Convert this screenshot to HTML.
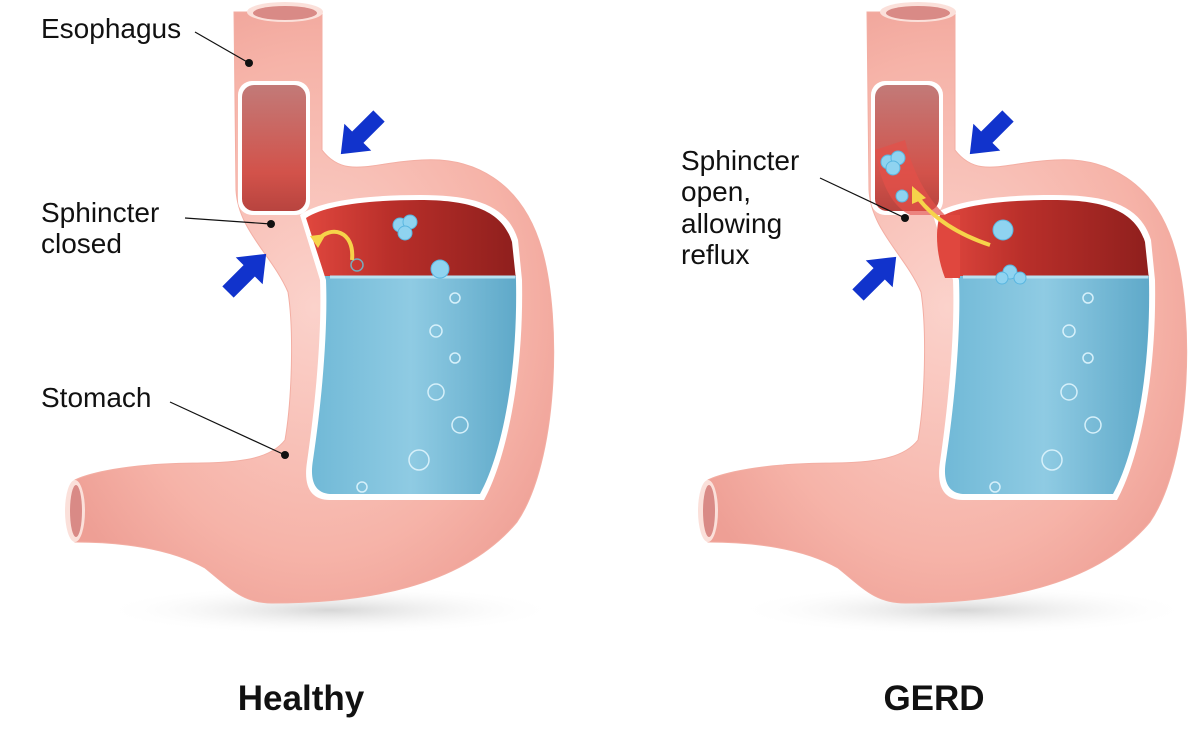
<!DOCTYPE html>
<html><head><style>
html,body{margin:0;padding:0;background:#fff;}
svg{display:block;}
text{font-family:"Liberation Sans",sans-serif;fill:#111;}
</style></head><body>
<svg width="1200" height="741" viewBox="0 0 1200 741" xmlns="http://www.w3.org/2000/svg">
<defs>
<radialGradient id="pk" cx="0.5" cy="0.5" r="0.6">
<stop offset="0" stop-color="#fbd2cb"/><stop offset="0.7" stop-color="#f6b3a8"/><stop offset="1" stop-color="#ee9f95"/>
</radialGradient>
<linearGradient id="rd" x1="0" y1="0" x2="1" y2="0">
<stop offset="0" stop-color="#e0473e"/><stop offset="0.4" stop-color="#b92f2a"/><stop offset="1" stop-color="#8f1f1d"/>
</linearGradient>
<linearGradient id="bl" x1="0" y1="0" x2="1" y2="0">
<stop offset="0" stop-color="#6fb8d6"/><stop offset="0.5" stop-color="#8fcbe3"/><stop offset="1" stop-color="#5fa9c9"/>
</linearGradient>
<linearGradient id="es" x1="0" y1="0" x2="0" y2="1">
<stop offset="0" stop-color="#c27a78"/><stop offset="0.7" stop-color="#d2524a"/><stop offset="1" stop-color="#b8443f"/>
</linearGradient>
<radialGradient id="sh" cx="0.5" cy="0.5" r="0.5">
<stop offset="0" stop-color="#ccc" stop-opacity="0.8"/><stop offset="1" stop-color="#fff" stop-opacity="0"/>
</radialGradient>
<clipPath id="top"><rect x="0" y="0" width="700" height="276"/></clipPath>
<clipPath id="bot"><rect x="0" y="276" width="700" height="400"/></clipPath>
<g id="st">
<ellipse cx="330" cy="610" rx="230" ry="25" fill="url(#sh)"/>
<path d="M234,12 L236,190 C238,230 272,255 288,292 C294,330 292,400 285,440 C262,470 200,460 150,465 C110,468 85,475 75,480 L75,542 C120,542 170,548 205,568 C230,588 242,603 272,603 C362,603 462,588 517,522 C558,462 562,320 542,250 C522,180 472,157 422,160 C372,162 345,180 322,150 L322,12 Z" fill="url(#pk)" stroke="#f3aea3" stroke-width="1"/>
<ellipse cx="285" cy="12" rx="38" ry="10" fill="#fbe0da"/>
<ellipse cx="285" cy="13" rx="32" ry="7" fill="#d98a86"/>
<ellipse cx="75" cy="511" rx="10" ry="31" fill="#fbe0da"/>
<ellipse cx="76" cy="511" rx="6" ry="26" fill="#d98a86"/>
<rect x="238" y="81" width="72" height="134" rx="14" fill="#fff"/>
<rect x="242" y="85" width="64" height="126" rx="12" fill="url(#es)"/>
<path d="M300,215 C320,200 370,195 420,195 C475,195 507,205 518,240 L522,280 C524,380 505,462 484,500 L330,500 C312,500 303,488 307,462 C316,400 322,330 320,280 Z" fill="#fff"/>
<path d="M306,218 C325,205 370,200 420,200 C470,200 502,210 512,242 L516,280 C518,380 500,458 480,494 L332,494 C317,494 309,484 313,460 C322,400 328,330 326,280 Z" fill="url(#rd)" clip-path="url(#top)"/>
<path d="M306,218 C325,205 370,200 420,200 C470,200 502,210 512,242 L516,280 C518,380 500,458 480,494 L332,494 C317,494 309,484 313,460 C322,400 328,330 326,280 Z" fill="url(#bl)" clip-path="url(#bot)"/>
<line x1="330" y1="277" x2="515" y2="277" stroke="#b8e2f2" stroke-width="3"/>
<g fill="none" stroke="#d6f0fa" stroke-width="1.5">
<circle cx="455" cy="298" r="5"/><circle cx="436" cy="331" r="6"/><circle cx="455" cy="358" r="5"/>
<circle cx="436" cy="392" r="8"/><circle cx="460" cy="425" r="8"/><circle cx="419" cy="460" r="10"/><circle cx="362" cy="487" r="5"/>
</g>
</g>
<g id="arr">
<path d="M0,-8 L30,-8 L30,-19 L54,0 L30,19 L30,8 L0,8 Z" fill="#1133cc"/>
</g>
</defs>

<use href="#st"/>
<use href="#st" transform="translate(633,0)"/>

<g fill="#8fd3f0" stroke="#5ab6e0" stroke-width="1">
<circle cx="400" cy="225" r="7"/><circle cx="410" cy="222" r="7"/><circle cx="405" cy="233" r="7"/>
<circle cx="440" cy="269" r="9"/>
</g>
<circle cx="357" cy="265" r="6" fill="none" stroke="#7ab" stroke-width="1.5"/>
<path d="M352,260 C355,230 330,225 318,240" fill="none" stroke="#f6d34a" stroke-width="4"/>
<path d="M310,236 L326,234 L318,248 Z" fill="#f6d34a"/>
<use href="#arr" transform="translate(379,116) rotate(135)"/>
<use href="#arr" transform="translate(228,292) rotate(-45)"/>

<path d="M940,215 C935,230 936,255 945,278 L960,278 L960,215 Z" fill="#e0473e"/>
<path d="M875,150 C880,180 890,205 910,215 L945,215 C930,200 915,180 905,140 Z" fill="#e45048" opacity="0.7"/>
<g fill="#8fd3f0" stroke="#5ab6e0" stroke-width="1">
<circle cx="888" cy="162" r="7"/><circle cx="898" cy="158" r="7"/><circle cx="893" cy="168" r="7"/>
<circle cx="902" cy="196" r="6"/>
<circle cx="1003" cy="230" r="10"/>
<circle cx="1010" cy="272" r="7"/><circle cx="1020" cy="278" r="6"/><circle cx="1002" cy="278" r="6"/>
</g>
<path d="M990,245 C960,235 935,220 918,198" fill="none" stroke="#f6d34a" stroke-width="4"/>
<path d="M912,186 L926,198 L912,204 Z" fill="#f6d34a"/>
<use href="#arr" transform="translate(1008,116) rotate(135)"/>
<use href="#arr" transform="translate(858,295) rotate(-45)"/>

<g stroke="#111" stroke-width="1.2">
<line x1="195" y1="32" x2="249" y2="63"/><line x1="185" y1="218" x2="271" y2="224"/>
<line x1="170" y1="402" x2="285" y2="455"/><line x1="820" y1="178" x2="905" y2="218"/>
</g>
<g fill="#111"><circle cx="249" cy="63" r="4"/><circle cx="271" cy="224" r="4"/><circle cx="285" cy="455" r="4"/><circle cx="905" cy="218" r="4"/></g>
<g font-size="28">
<text x="41" y="38">Esophagus</text>
<text x="41" y="222">Sphincter</text><text x="41" y="253">closed</text>
<text x="41" y="407">Stomach</text>
<text x="681" y="170">Sphincter</text><text x="681" y="201">open,</text><text x="681" y="233">allowing</text><text x="681" y="264">reflux</text>
</g>
<text x="301" y="710" font-size="35" font-weight="bold" text-anchor="middle">Healthy</text>
<text x="934" y="710" font-size="35" font-weight="bold" text-anchor="middle">GERD</text>
</svg>
</body></html>
